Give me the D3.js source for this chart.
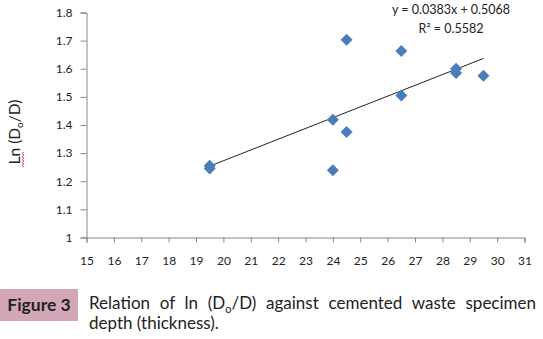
<!DOCTYPE html>
<html><head><meta charset="utf-8">
<script src="https://cdn.jsdelivr.net/npm/d3@7"></script>
<style>body{margin:0;background:#fff}svg{display:block}</style>
</head><body>
<script>
const depth = [19.5, 19.5, 24.5, 26.5, 28.5, 28.5, 29.5, 26.5, 24, 24.5, 24];
const lnRatio = [1.255, 1.245, 1.703, 1.663, 1.60, 1.585, 1.575, 1.505, 1.419, 1.375, 1.239];
const xTicks = d3.range(15, 32, 1);
const yTicks = [1, 1.1, 1.2, 1.3, 1.4, 1.5, 1.6, 1.7, 1.8];
const trendSlope = [0.0383];
const trendIntercept = [0.5068];
const eqLabels = ["y = 0.0383x + 0.5068", "R² = 0.5582"];

const W = 543, H = 339;
const svg = d3.select("body").append("svg").attr("width", W).attr("height", H);
const font = "Lato, 'Open Sans', sans-serif";

const x = d3.scaleLinear().domain([15, 31]).range([86.5, 524.5]);
const y = d3.scaleLinear().domain([1, 1.8]).range([237.5, 12.5]);

const axisColor = "#868686";
const xAxis = svg.append("g").attr("transform", `translate(0,${y(1)})`)
  .call(d3.axisBottom(x).tickValues(xTicks).tickSize(5).tickPadding(14).tickFormat(d3.format("d")));
const yAxis = svg.append("g").attr("transform", `translate(${x(15)},0)`)
  .call(d3.axisLeft(y).tickValues(yTicks).tickSize(6).tickPadding(8).tickFormat(d => d === 1 ? "1" : d3.format(".1f")(d)));
[xAxis, yAxis].forEach(g => {
  g.select(".domain").attr("stroke", axisColor);
  g.selectAll(".tick line").attr("stroke", axisColor);
  g.selectAll(".tick text").attr("fill", "#222").style("font-family", font).style("font-size", "12px");
});

// trendline
const xr = d3.extent(depth);
const line = d3.line().x(d => x(d)).y(d => y(trendSlope[0] * d + trendIntercept[0]));
svg.append("path").datum(xr).attr("d", line).attr("stroke", "#222").attr("stroke-width", 1).attr("fill", "none");

// diamonds
const r = 6;
svg.append("g").selectAll("path").data(depth.map((d, i) => [d, lnRatio[i]])).join("path")
  .attr("d", d => { const cx = x(d[0]), cy = y(d[1]); return `M${cx},${cy - r}L${cx + r},${cy}L${cx},${cy + r}L${cx - r},${cy}Z`; })
  .attr("fill", "#4a7ebb");

// equation
svg.append("text").attr("x", 451).attr("y", 14).attr("text-anchor", "middle")
  .style("font-family", font).style("font-size", "12.5px").attr("fill", "#222").text(eqLabels[0]);
svg.append("text").attr("x", 451).attr("y", 33).attr("text-anchor", "middle")
  .style("font-family", font).style("font-size", "12.5px").attr("fill", "#222").text(eqLabels[1]);

// y axis title
const yt = svg.append("text").attr("transform", "translate(20,132) rotate(-90)").attr("text-anchor", "middle")
  .style("font-family", font).style("font-size", "15.5px").attr("fill", "#222");
yt.append("tspan").text("Ln (D");
yt.append("tspan").text("o").style("font-size", "10px").attr("dy", 3);
yt.append("tspan").text("/D)").attr("dy", -3);
// spell-check squiggle under "Ln"
let sq = "M24,167";
for (let i = 0; i < 10; i++) sq += ` l${i % 2 ? 2 : -2},-1.5`;
svg.append("path").attr("d", sq).attr("stroke", "#e03030").attr("fill", "none").attr("stroke-width", 0.8);

// caption
svg.append("rect").attr("x", 0).attr("y", 289).attr("width", 78).attr("height", 32).attr("fill", "#d4a7b8");
svg.append("text").attr("x", 39).attr("y", 311).attr("text-anchor", "middle")
  .style("font-family", font).style("font-size", "17.5px").style("font-weight", "bold").attr("fill", "#222").text("Figure 3");
const c1 = svg.append("text").attr("x", 89).attr("y", 309)
  .style("font-family", font).style("font-size", "17px").attr("fill", "#222");
c1.append("tspan").text("Relation of ln (D");
c1.append("tspan").text("o").style("font-size", "11px").attr("dy", 4);
c1.append("tspan").text("/D) against cemented waste specimen").attr("dy", -4);
const len = c1.node().getComputedTextLength();
const target = 447;
if (len < target) c1.style("word-spacing", ((target - len) / 7) + "px");
svg.append("text").attr("x", 89).attr("y", 329)
  .style("font-family", font).style("font-size", "17px").attr("fill", "#222").text("depth (thickness).");
</script>
</body></html>
